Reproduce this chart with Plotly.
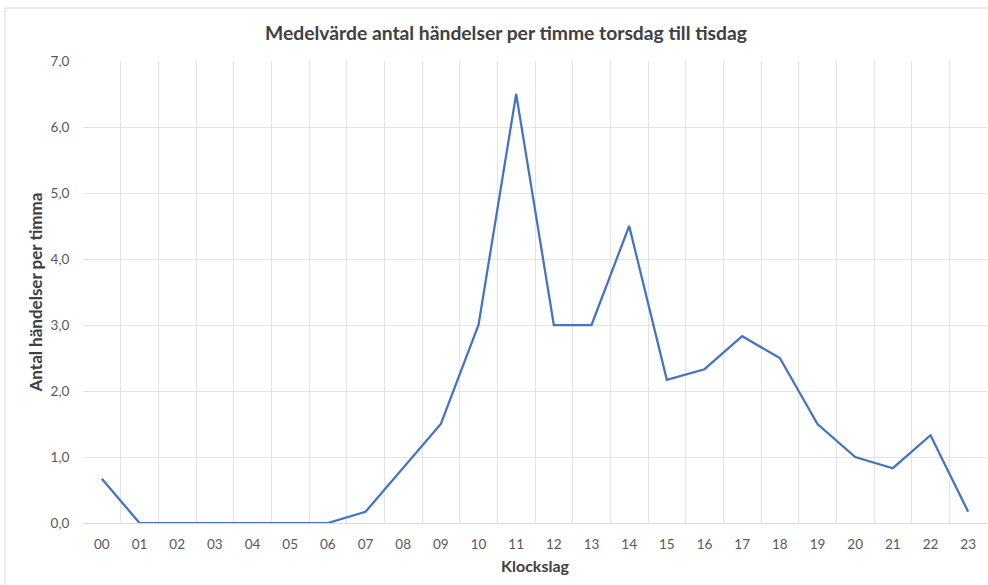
import plotly.graph_objects as go

hours = ["00", "01", "02", "03", "04", "05", "06", "07", "08", "09", "10", "11",
         "12", "13", "14", "15", "16", "17", "18", "19", "20", "21", "22", "23"]
values = [0.67, 0.0, 0.0, 0.0, 0.0, 0.0, 0.0, 0.17, 0.83, 1.5, 3.0, 6.5,
          3.0, 3.0, 4.5, 2.17, 2.33, 2.83, 2.5, 1.5, 1.0, 0.83, 1.33, 0.17]
y_ticks = [0, 1, 2, 3, 4, 5, 6, 7]

W, H = 988, 585
L, R, T, B = 83, 1, 61, 62

fig = go.Figure(go.Scatter(
    x=hours, y=values, mode="lines",
    line=dict(color="#4472C4", width=2.25),
))

font = "Lato, 'Open Sans', sans-serif"
pw = W - L - R
ph = H - T - B

fig.update_layout(
    width=W, height=H,
    margin=dict(l=L, r=R, t=T, b=B, autoexpand=False),
    paper_bgcolor="white", plot_bgcolor="white",
    separators=", ",
    showlegend=False,
    font=dict(family=font, color="#595959", size=13),
    title=dict(text="<b>Medelvärde antal händelser per timme torsdag till tisdag</b>",
               x=506 / W, xanchor="center", y=1 - 33 / H, yanchor="middle",
               font=dict(size=19.3, color="#404040", family=font)),
    xaxis=dict(type="category", tickson="boundaries", showgrid=True,
               range=[-0.5, 23.5], automargin=False,
               gridcolor="#e3e3e3", gridwidth=1, showline=False, zeroline=False,
               ticks="outside", ticklen=14, tickcolor="rgba(0,0,0,0)",
               ticklabelstandoff=11,
               tickfont=dict(size=13.5, color="#595959"),
               title=dict(text="<b>Klockslag</b>", standoff=10,
                          font=dict(size=16, color="#404040"))),
    yaxis=dict(range=[0, 7], tickvals=y_ticks, tickformat=".1f", automargin=False,
               showgrid=True, gridcolor="#e3e3e3", gridwidth=1,
               zeroline=True, zerolinecolor="#d9d9d9", zerolinewidth=1,
               ticks="outside", ticklen=10, tickcolor="rgba(0,0,0,0)",
               tickfont=dict(size=13.5, color="#595959"),
               title=dict(text="<b>Antal händelser per timma</b>", standoff=3,
                          font=dict(size=17, color="#404040"))),
    shapes=[dict(type="rect", xref="paper", yref="paper",
                 x0=(5 - L) / pw, x1=(W + 10 - L) / pw,
                 y0=-(H + 10 - T - ph) / ph, y1=1 + (T - 8) / ph,
                 line=dict(color="#d9d9d9", width=1), layer="below")],
)

fig.write_html("out.html", config={"displayModeBar": False},
               post_script="document.body.style.margin='0';document.body.style.overflow='hidden';")
